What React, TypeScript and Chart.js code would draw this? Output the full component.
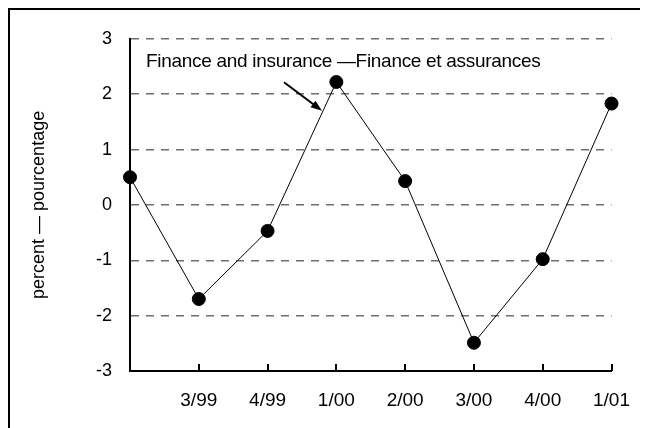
import React, { useEffect, useRef } from "react";
import { Chart, registerables } from "chart.js";

Chart.register(...registerables);

const categories: string[] = ["", "3/99", "4/99", "1/00", "2/00", "3/00", "4/00", "1/01"];
const values: number[] = [0.5, -1.7, -0.47, 2.22, 0.43, -2.49, -0.98, 1.83];
const yTicks: number[] = [-3, -2, -1, 0, 1, 2, 3];
const yTitle = "percent — pourcentage";
const annotationText = "Finance and insurance —Finance et assurances";

const FONT = "'Liberation Sans', Arial, sans-serif";

const decor = {
  id: "decor",
  afterDraw(chart: any) {
    const ctx = chart.ctx;
    const x = chart.scales.x;
    const area = chart.chartArea;
    ctx.save();
    // inward tick marks on x axis
    ctx.strokeStyle = "#000";
    ctx.lineWidth = 2;
    for (let i = 1; i < categories.length; i++) {
      const px = Math.round(x.getPixelForTick(i));
      ctx.beginPath();
      ctx.moveTo(px, area.bottom);
      ctx.lineTo(px, area.bottom - 7);
      ctx.stroke();
    }
    // annotation text
    ctx.fillStyle = "#000";
    ctx.font = `19px ${FONT}`;
    try {
      (ctx as any).letterSpacing = "-0.3px";
    } catch (e) {}
    ctx.textBaseline = "alphabetic";
    ctx.textAlign = "left";
    ctx.fillText(annotationText, area.left + 16, area.top + 28);
    try {
      (ctx as any).letterSpacing = "0px";
    } catch (e) {}
    // arrow
    const x1 = area.left + 154, y1 = area.top + 43.5;
    const x2 = area.left + 192, y2 = area.top + 72;
    ctx.lineWidth = 2;
    ctx.beginPath();
    ctx.moveTo(x1, y1);
    ctx.lineTo(x2 - 6, y2 - 4.5);
    ctx.stroke();
    const ang = Math.atan2(y2 - y1, x2 - x1);
    ctx.beginPath();
    ctx.moveTo(x2, y2);
    ctx.lineTo(x2 - 12 * Math.cos(ang - 0.35), y2 - 12 * Math.sin(ang - 0.35));
    ctx.lineTo(x2 - 12 * Math.cos(ang + 0.35), y2 - 12 * Math.sin(ang + 0.35));
    ctx.closePath();
    ctx.fill();
    ctx.restore();
  },
};

export default function App() {
  const ref = useRef<HTMLCanvasElement | null>(null);
  useEffect(() => {
    if (!ref.current) return;
    const chart = new Chart(ref.current, {
      type: "line",
      data: {
        labels: categories,
        datasets: [
          {
            data: values,
            borderColor: "#000",
            borderWidth: 1,
            backgroundColor: "#000",
            pointBackgroundColor: "#000",
            pointBorderColor: "#000",
            pointRadius: 6.5,
            tension: 0,
          },
        ],
      },
      options: {
        responsive: false,
        animation: false,
        events: [],
        layout: { padding: { left: 0, right: 34, top: 27.5, bottom: 0 } },
        plugins: { legend: { display: false }, tooltip: { enabled: false } },
        scales: {
          x: {
            type: "category",
            offset: false,
            grid: { display: false, drawTicks: false },
            border: { display: true, color: "#000", width: 2 },
            ticks: {
              color: "#000",
              font: { family: FONT, size: 19 },
              padding: 18,
              maxRotation: 0,
              autoSkip: false,
            },
            afterFit: (s: any) => {
              s.height = 57;
            },
          },
          y: {
            min: -3,
            max: 3,
            afterBuildTicks: (s: any) => {
              s.ticks = yTicks.map((v) => ({ value: v }));
            },
            grid: {
              color: (c: any) => (c.tick && c.tick.value === -3 ? "rgba(0,0,0,0)" : "#6e6e6e"),
              lineWidth: 1.5,
              drawTicks: false,
            },
            border: { display: true, color: "#000", width: 2, dash: [8, 7] },
            ticks: {
              color: "#000",
              font: { family: FONT, size: 18 },
              padding: 18,
            },
            title: {
              display: true,
              text: yTitle,
              color: "#000",
              font: { family: FONT, size: 18 },
              padding: { top: 18, bottom: 0 },
            },
            afterFit: (s: any) => {
              s.width = 120;
            },
          },
        },
      },
      plugins: [decor],
    } as any);
    return () => chart.destroy();
  }, []);
  return (
    <div
      style={{
        borderTop: "2px solid #000",
        borderLeft: "2px solid #000",
        width: 638,
        height: 418,
      }}
    >
      <canvas ref={ref} width={638} height={418} style={{ display: "block" }} />
    </div>
  );
}
